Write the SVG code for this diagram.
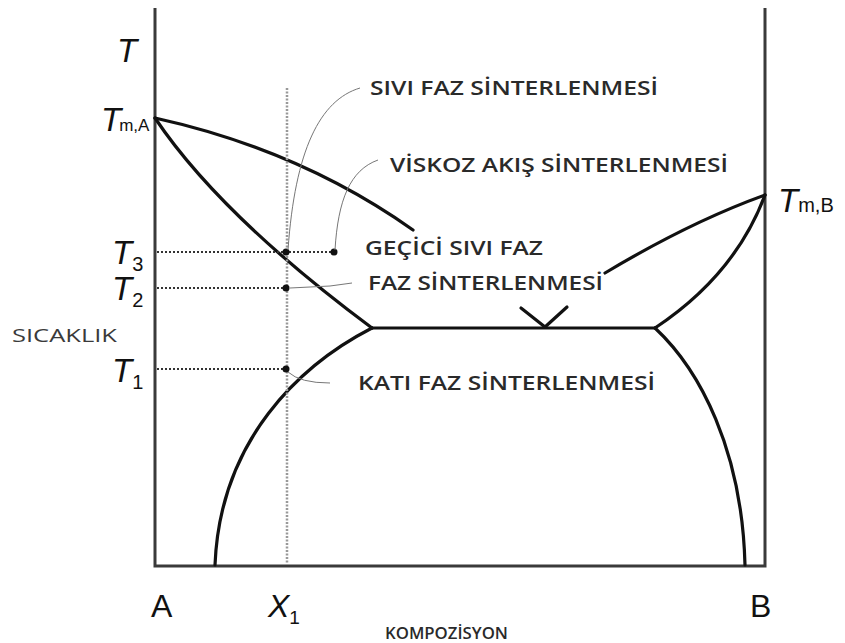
<svg xmlns="http://www.w3.org/2000/svg" width="845" height="643" viewBox="0 0 845 643">
<style>
.ax{stroke:#3a3a3a;stroke-width:3;fill:none}
.cv{stroke:#111;stroke-width:3.2;fill:none;stroke-linecap:round;stroke-linejoin:round}
.dt{stroke:#333;stroke-width:2;stroke-dasharray:2 2;fill:none}
.vd{stroke:#999;stroke-width:2.5;stroke-dasharray:2 1.5;fill:none}
.ld{stroke:#777;stroke-width:1;fill:none}
.lb{font-family:"Open Sans","DejaVu Sans",sans-serif;fill:#2a2a2a;font-weight:600}
.ax-lb{font-family:"Open Sans","DejaVu Sans",sans-serif;fill:#3a3a3a}
.it{font-family:"Liberation Sans",Arial,sans-serif;font-style:italic;fill:#111}
.rm{font-family:"Liberation Sans",Arial,sans-serif;fill:#111}
</style>
<rect width="845" height="643" fill="#fff"/>
<g id="axes">
<path class="ax" d="M155,8 V566 H765 V8"/>
</g>
<g id="phase-lines">
<path class="cv" d="M155,118 Q300,150 413,230"/>
<path class="cv" d="M155,118 Q220,215 372,328"/>
<path class="cv" d="M372,328 H655"/>
<path class="cv" d="M521,308 L545,327 L567,307"/>
<path class="cv" d="M372,328 C300,365 220,440 215,565"/>
<path class="cv" d="M765,195 Q735,275 655,328"/>
<path class="cv" d="M765,195 Q690,222 605,273"/>
<path class="cv" d="M655,328 C700,370 742,450 745,565"/>
</g>
<g id="guides">
<path class="vd" d="M287,88 V565"/>
<path class="dt" d="M157,252 H335"/>
<path class="dt" d="M157,288 H287"/>
<path class="dt" d="M157,369 H287"/>
<circle cx="286" cy="252" r="3.5" fill="#111"/>
<circle cx="334" cy="252" r="3.5" fill="#111"/>
<circle cx="286" cy="288" r="3.5" fill="#111"/>
<circle cx="286" cy="369" r="3.5" fill="#111"/>
</g>
<g id="connectors">
<path class="ld" d="M360,88 C320,100 295,150 288,250"/>
<path class="ld" d="M378,160 C350,170 338,200 335,250"/>
<path class="ld" d="M290,288 L330,286 L352,283"/>
<path class="ld" d="M288,372 Q300,383 330,383"/>
</g>
<g id="labels">
<text class="lb" x="370" y="95" font-size="20" textLength="288" lengthAdjust="spacingAndGlyphs">SIVI FAZ SİNTERLENMESİ</text>
<text class="lb" x="390" y="172" font-size="20" textLength="338" lengthAdjust="spacingAndGlyphs">VİSKOZ AKIŞ SİNTERLENMESİ</text>
<text class="lb" x="365" y="255" font-size="20" textLength="178" lengthAdjust="spacingAndGlyphs">GEÇİCİ SIVI FAZ</text>
<text class="lb" x="368" y="290" font-size="20" textLength="235" lengthAdjust="spacingAndGlyphs">FAZ SİNTERLENMESİ</text>
<text class="lb" x="358" y="390" font-size="20" textLength="297" lengthAdjust="spacingAndGlyphs">KATI FAZ SİNTERLENMESİ</text>
<text class="ax-lb" x="12" y="342" font-size="18" textLength="105" lengthAdjust="spacingAndGlyphs">SICAKLIK</text>
<text class="lb" x="385" y="639" font-size="17" textLength="123" lengthAdjust="spacingAndGlyphs">KOMPOZİSYON</text>
<text class="it" x="117" y="62" font-size="33">T</text>
<text x="101" y="131"><tspan class="it" font-size="33">T</tspan><tspan class="rm" font-size="17" dx="-2">m,A</tspan></text>
<text x="778" y="212"><tspan class="it" font-size="33">T</tspan><tspan class="rm" font-size="20">m,B</tspan></text>
<text x="112" y="264"><tspan class="it" font-size="33">T</tspan><tspan class="rm" font-size="20" dy="7">3</tspan></text>
<text x="112" y="300"><tspan class="it" font-size="33">T</tspan><tspan class="rm" font-size="20" dy="7">2</tspan></text>
<text x="112" y="382"><tspan class="it" font-size="33">T</tspan><tspan class="rm" font-size="20" dy="7">1</tspan></text>
<text class="rm" x="151" y="617" font-size="32">A</text>
<text class="rm" x="750" y="617" font-size="32">B</text>
<text x="268" y="617"><tspan class="it" font-size="32">X</tspan><tspan class="rm" font-size="19" dy="7">1</tspan></text>
</g>
</svg>
